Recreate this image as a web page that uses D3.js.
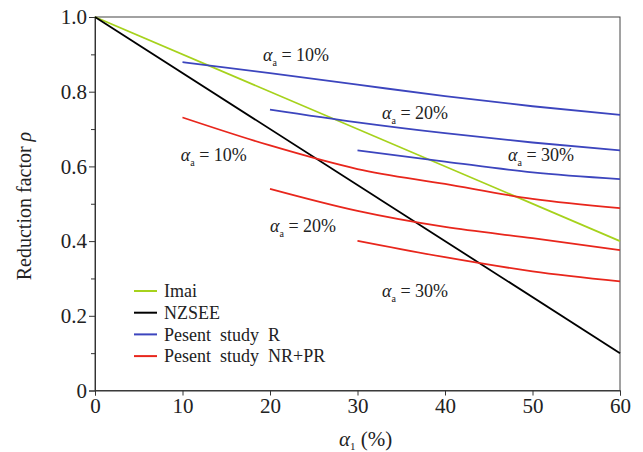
<!DOCTYPE html>
<html>
<head>
<meta charset="utf-8">
<script src="https://cdn.jsdelivr.net/npm/d3@7"></script>
<style>
  body { margin: 0; background: #fff; }
  svg text { font-family: "Liberation Serif", "Times New Roman", serif !important; }
</style>
</head>
<body>
<div class="sandbox"></div>
<script>
// code curves
var imai = [[0, 1.0], [60, 0.4]];
var nzsee = [[0, 1.0], [60, 0.1]];

// present study, R (blue), sampled every 10 % up to alpha_1 = 60 %
var r10 = [0.879, 0.850, 0.819, 0.788, 0.761, 0.738];
var r20 = [0.752, 0.718, 0.689, 0.664, 0.643];
var r30 = [0.643, 0.613, 0.584, 0.566];

// present study, NR+PR (red)
var nr10 = [0.731, 0.656, 0.593, 0.553, 0.513, 0.488];
var nr20 = [0.540, 0.481, 0.438, 0.408, 0.376];
var nr30 = [0.401, 0.357, 0.319, 0.292];

var yTicks = [0, 0.2, 0.4, 0.6, 0.8, 1.0];
var yMinor = [0.1, 0.3, 0.5, 0.7, 0.9];
var xTicks = [0, 10, 20, 30, 40, 50, 60];

var legendNames = ["Imai", "NZSEE", "Pesent  study  R", "Pesent  study  NR+PR"];
var legendColors = ["#a6d21c", "#000000", "#3c45be", "#e8261c"];

// alpha_a labels: [x, y, text]
var blueLabels = [[19.2, 0.882, "10%"], [32.8, 0.727, "20%"], [47.2, 0.615, "30%"]];
var redLabels = [[9.8, 0.614, "10%"], [20, 0.425, "20%"], [32.8, 0.251, "30%"]];

var W = 643, H = 452;
var m = {left: 95, top: 17, right: 23, bottom: 61.5};
var w = W - m.left - m.right, h = H - m.top - m.bottom;

var svg = d3.select(".sandbox").append("svg")
  .attr("width", W).attr("height", H);
var g = svg.append("g").attr("transform", "translate(" + [m.left, m.top] + ")");

var x = d3.scaleLinear().domain([0, 60]).range([0, w]);
var y = d3.scaleLinear().domain([0, 1]).range([h, 0]);

// frame
g.append("rect").attr("width", w).attr("height", h)
  .attr("fill", "none").attr("stroke", "#444").attr("stroke-width", 1);

g.append("g").attr("transform", "translate(0," + h + ")")
  .call(d3.axisBottom(x).tickValues(xTicks).tickSize(5).tickPadding(3).tickFormat(d3.format("d")));
g.append("g")
  .call(d3.axisLeft(y).tickValues(yTicks).tickSize(6).tickPadding(2)
    .tickFormat(d => d === 0 ? "0" : d3.format(".1f")(d)));
g.append("g")
  .call(d3.axisLeft(y).tickValues(yMinor).tickSize(4).tickFormat(""))
  .select(".domain").remove();

g.selectAll(".tick line").attr("stroke", "#333");
g.selectAll(".domain").attr("stroke", "#333");
g.selectAll(".tick text").attr("fill", "#222").style("font-size", "21px");

var line = d3.line().x(d => x(d[0])).y(d => y(d[1])).curve(d3.curveMonotoneX);
function pts(vals) {
  var start = 60 - (vals.length - 1) * 10;
  return vals.map((v, i) => [start + i * 10, v]);
}

var series = [
  [imai, legendColors[0]], [nzsee, legendColors[1]],
  [pts(r10), legendColors[2]], [pts(r20), legendColors[2]], [pts(r30), legendColors[2]],
  [pts(nr10), legendColors[3]], [pts(nr20), legendColors[3]], [pts(nr30), legendColors[3]]
];
g.selectAll("path.s").data(series).enter().append("path")
  .attr("class", "s")
  .attr("d", d => line(d[0]))
  .attr("fill", "none")
  .attr("stroke", d => d[1])
  .attr("stroke-width", 1.8);

// alpha_a annotations
function label(d) {
  var t = g.append("text")
    .attr("x", x(d[0])).attr("y", y(d[1]))
    .attr("fill", "#222").style("font-size", "18px");
  t.append("tspan").style("font-style", "italic").text("\u03b1");
  t.append("tspan").attr("dy", 5).style("font-size", "10px").text("a");
  t.append("tspan").attr("dy", -5).text(" = " + d[2]);
}
blueLabels.forEach(label);
redLabels.forEach(label);

// legend
var lg = g.selectAll("g.lg").data(legendNames).enter().append("g")
  .attr("class", "lg")
  .attr("transform", (d, i) => "translate(" + [134 - m.left, 291 - m.top + i * 21.7] + ")");
lg.append("line").attr("x1", 0).attr("x2", 23)
  .attr("stroke", (d, i) => legendColors[i]).attr("stroke-width", 2);
lg.append("text").attr("x", 30).attr("dy", "0.35em")
  .style("font-size", "18px").style("white-space", "pre").attr("fill", "#222")
  .text(d => d);

// axis titles
var xt = svg.append("text").attr("x", 339).attr("y", 446)
  .attr("fill", "#222").style("font-size", "21px");
xt.append("tspan").style("font-style", "italic").text("\u03b1");
xt.append("tspan").attr("dy", 4).style("font-size", "11px").text("1");
xt.append("tspan").attr("dy", -4).text(" (%)");

var yt = svg.append("text")
  .attr("transform", "translate(31,206) rotate(-90)")
  .attr("text-anchor", "middle")
  .attr("fill", "#222").style("font-size", "20px");
yt.append("tspan").text("Reduction factor ");
yt.append("tspan").style("font-style", "italic").text("\u03c1");
</script>
</body>
</html>
